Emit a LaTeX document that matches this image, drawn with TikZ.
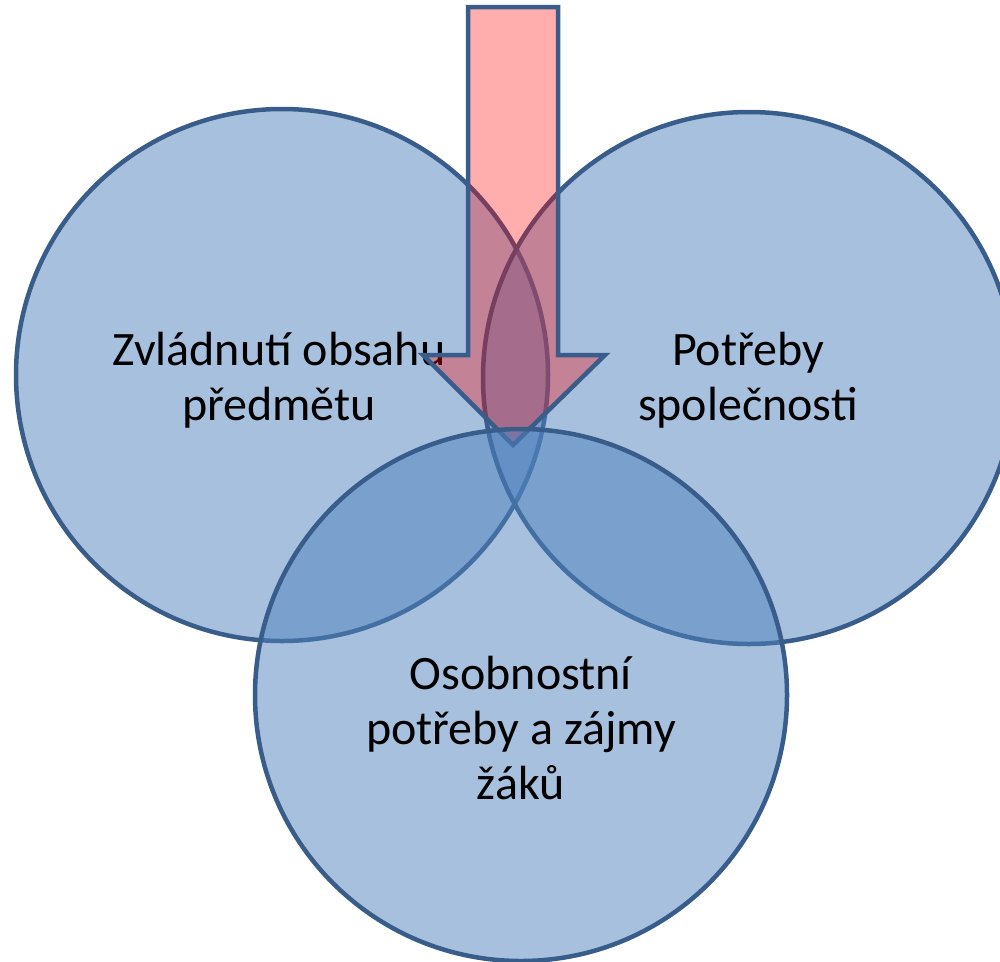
\documentclass[tikz,border=0pt]{standalone}
\usepackage{fontspec}
\setmainfont{Carlito}
\definecolor{cfill}{HTML}{4F81BD}
\definecolor{cline}{HTML}{385D8A}
\tikzset{
  circ/.style={circle, draw=cline, line width=4.5pt, fill=cfill, fill opacity=0.5, draw opacity=1, inner sep=0pt, minimum size=532pt},
  txt/.style={align=center, font=\fontsize{48}{55}\selectfont, text=black, inner sep=0pt},
  arrowst/.style={draw=cline, line width=4.5pt, fill=red, fill opacity=0.32, draw opacity=1, line join=miter}
}
\begin{document}
\begin{tikzpicture}[x=1pt,y=-1pt]
\clip (0,0) rectangle (1000,961);
\node[circ] (L) at (282,375) {};
\node[txt] (Lt) at (279,380) {Zvládnutí obsahu\\předmětu};
\node[circ] (R) at (749,378) {};
\node[txt] (Rt) at (748,380) {Potřeby\\společnosti};
\coordinate (a1) at (468,7);
\coordinate (a2) at (558,7);
\coordinate (a3) at (558,355);
\coordinate (a4) at (605,355);
\coordinate (tip) at (513,445);
\coordinate (a6) at (423,355);
\coordinate (a7) at (468,355);
\draw[arrowst] (a1) -- (a2) -- (a3) -- (a4) -- (tip) -- (a6) -- (a7) -- cycle;
\node[circ] (B) at (521,695) {};
\node[txt] (Bt) at (521,728) {Osobnostní\\potřeby a zájmy\\žáků};
\end{tikzpicture}
\end{document}
